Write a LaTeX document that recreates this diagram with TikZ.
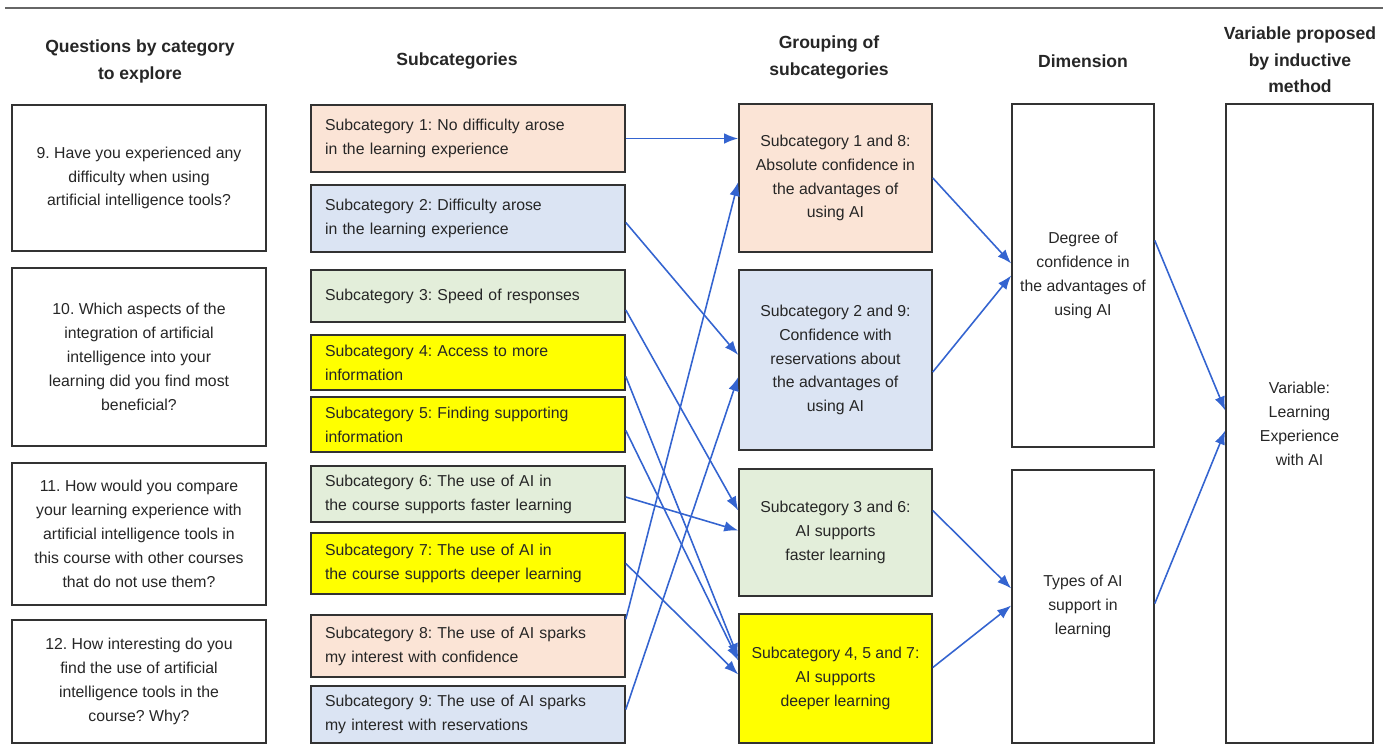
\documentclass[tikz,border=0pt]{standalone}
\usepackage{fontspec}
\setmainfont{Liberation Sans}
\usetikzlibrary{arrows.meta,calc}
\definecolor{peach}{RGB}{251,228,214}
\definecolor{paleblue}{RGB}{219,228,243}
\definecolor{palegreen}{RGB}{227,238,218}
\definecolor{brightyellow}{RGB}{255,255,0}
\definecolor{arrowblue}{RGB}{52,100,208}
\definecolor{boxline}{RGB}{50,50,50}
\newcommand{\pxu}{0.02cm}
\newcommand{\bodyfont}{\fontsize{9}{13.6}\selectfont}
\frenchspacing
\begin{document}
\begin{tikzpicture}[x=0.02cm,y=-0.02cm,
	every node/.style={text=black!85},
	hdr/.style={font=\bfseries\fontsize{10}{15}\selectfont,align=center},
	qbox/.style={draw=boxline,line width=0.9pt,align=center,font=\bodyfont,minimum width=254*\pxu},
	subbox/.style={draw=boxline,line width=0.9pt,align=left,font=\bodyfont,text width=286*\pxu,inner xsep=14*\pxu},
	grpbox/.style={draw=boxline,line width=0.9pt,align=center,font=\bodyfont,minimum width=193*\pxu,inner xsep=1pt},
	dimbox/.style={draw=boxline,line width=0.9pt,align=center,font=\bodyfont,minimum width=142*\pxu,inner xsep=1pt},
	arr/.style={-{Latex[length=2.8mm,width=2.1mm]},line width=0.9pt,draw=arrowblue}]
	\useasboundingbox (0,0) rectangle (1394,745);
	\draw[black!60,line width=1.3pt] (5,8) -- (1383,8);
	
	% column headers
	\node[hdr](hq) at (140,61.5){Questions by category\\to explore};
	\node[hdr](hs) at (457,61){Subcategories};
	\node[hdr](hg) at (829,57.5){Grouping of\\subcategories};
	\node[hdr](hd) at (1083,61){Dimension};
	\node[hdr](hv) at (1300,60){Variable proposed\\by inductive\\method};
	
	% questions
	\node[qbox,minimum height=146*\pxu](q9) at (139,178){9. Have you experienced any\\difficulty when using\\artificial intelligence tools?};
	\node[qbox,minimum height=178*\pxu](q10) at (139,357){10. Which aspects of the\\integration of artificial\\intelligence into your\\learning did you find most\\beneficial?};
	\node[qbox,minimum height=142*\pxu](q11) at (139,534){11. How would you compare\\your learning experience with\\artificial intelligence tools in\\this course with other courses\\that do not use them?};
	\node[qbox,minimum height=123*\pxu](q12) at (139,681.5){12. How interesting do you\\find the use of artificial\\intelligence tools in the\\course? Why?};
	
	% subcategories
	\node[subbox,fill=peach,minimum height=67*\pxu](s1) at (468,138.5){Subcategory 1: No difficulty arose\\in the learning experience};
	\node[subbox,fill=paleblue,minimum height=67*\pxu](s2) at (468,218.5){Subcategory 2: Difficulty arose\\in the learning experience};
	\node[subbox,fill=palegreen,minimum height=52*\pxu](s3) at (468,296){Subcategory 3: Speed of responses};
	\node[subbox,fill=brightyellow,minimum height=55*\pxu](s4) at (468,362.5){Subcategory 4: Access to more\\information};
	\node[subbox,fill=brightyellow,minimum height=55*\pxu](s5) at (468,424.5){Subcategory 5: Finding supporting\\information};
	\node[subbox,fill=palegreen,minimum height=56*\pxu](s6) at (468,494){Subcategory 6: The use of AI in\\the course supports faster learning};
	\node[subbox,fill=brightyellow,minimum height=61*\pxu](s7) at (468,563.5){Subcategory 7: The use of AI in\\the course supports deeper learning};
	\node[subbox,fill=peach,minimum height=62*\pxu](s8) at (468,646){Subcategory 8: The use of AI sparks\\my interest with confidence};
	\node[subbox,fill=paleblue,minimum height=57*\pxu](s9) at (468,714.5){Subcategory 9: The use of AI sparks\\my interest with reservations};
	
	% groupings
	\node[grpbox,fill=peach,minimum height=148*\pxu](g1) at (835.5,178){Subcategory 1 and 8:\\Absolute confidence in\\the advantages of\\using AI};
	\node[grpbox,fill=paleblue,minimum height=180*\pxu](g2) at (835.5,360){Subcategory 2 and 9:\\Confidence with\\reservations about\\the advantages of\\using AI};
	\node[grpbox,fill=palegreen,minimum height=127*\pxu](g3) at (835.5,532.5){Subcategory 3 and 6:\\AI supports\\faster learning};
	\node[grpbox,fill=brightyellow,minimum height=129*\pxu](g4) at (835.5,678.5){Subcategory 4, 5 and 7:\\AI supports\\deeper learning};
	
	% dimensions and variable
	\node[dimbox,minimum height=343*\pxu](d1) at (1083,275.5){Degree of\\confidence in\\the advantages of\\using AI};
	\node[dimbox,minimum height=273*\pxu](d2) at (1083,606.5){Types of AI\\support in\\learning};
	\node[dimbox,minimum width=147*\pxu,minimum height=639*\pxu](var) at (1299.5,423.5){Variable:\\Learning\\Experience\\with AI};
	
	% subcategories to groupings
	\draw[arr](s1.east)--(s1.east -| g1.west);
	\draw[arr]($(s2.east)+(0,4)$)--($(g2.west)+(0,-5)$);
	\draw[arr]($(s3.east)+(0,14)$)--($(g3.west)+(0,-22)$);
	\draw[arr]($(s4.east)+(0,14)$)--($(g4.west)+(0,-21)$);
	\draw[arr]($(s5.east)+(0,6)$)--($(g4.west)+(0,-18)$);
	\draw[arr]($(s6.east)+(0,3)$)--($(g3.west)+(0,-2)$);
	\draw[arr](s7.east)--($(g4.west)+(0,-4)$);
	\draw[arr]($(s8.north east)+(0,5)$)--($(g1.west)+(0,4)$);
	\draw[arr]($(s9.east)+(0,-5)$)--($(g2.west)+(0,17)$);
	
	% groupings to dimensions
	\draw[arr](g1.east)--($(d1.west)+(0,-12)$);
	\draw[arr]($(g2.east)+(0,12)$)--(d1.west);
	\draw[arr]($(g3.east)+(0,-22)$)--($(d2.west)+(0,-18)$);
	\draw[arr]($(g4.east)+(0,-11)$)--($(d2.west)+(0,-1)$);
	
	% dimensions to variable
	\draw[arr]($(d1.east)+(0,-35)$)--($(var.west)+(0,-13)$);
	\draw[arr]($(d2.east)+(0,-3)$)--($(var.west)+(0,7)$);
	
\end{tikzpicture}
\end{document}
